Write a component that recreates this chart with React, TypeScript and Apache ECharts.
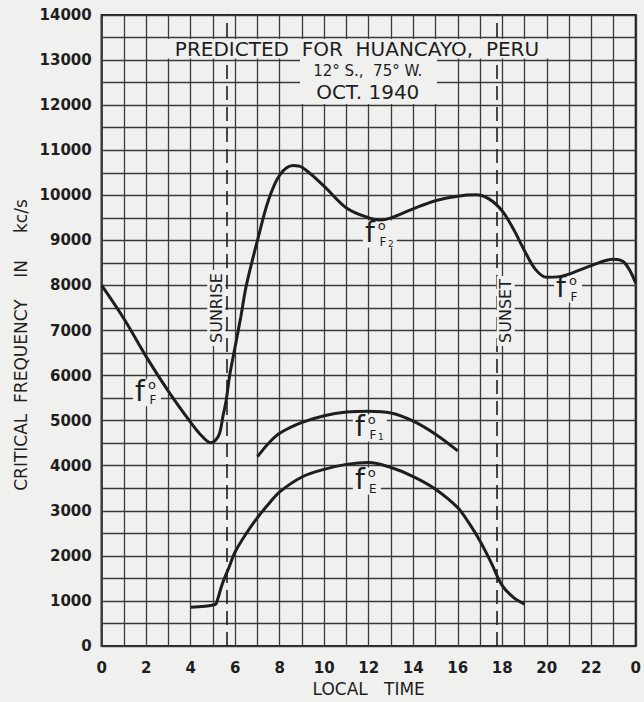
import React, { useEffect, useRef } from "react";
import * as echarts from "echarts";

// ---- data (local time in hours, critical frequency in kc/s) ----
const fFHours = [0, 1, 2, 3, 4, 4.5, 4.9, 5.25, 5.45, 5.6, 5.75, 6.0, 6.25, 6.5, 7, 7.5, 8, 8.6, 9, 10, 11, 12, 12.5, 13, 14, 15, 16, 16.8, 17.4, 18, 18.5, 19, 19.5, 20, 20.5, 21, 22, 23, 23.5, 24];
const fFValues = [8000, 7260, 6420, 5650, 4960, 4660, 4510, 4660, 5100, 5470, 6000, 6650, 7300, 8000, 9000, 9900, 10450, 10660, 10620, 10200, 9720, 9500, 9450, 9500, 9700, 9880, 9980, 10010, 9920, 9650, 9250, 8770, 8350, 8180, 8190, 8250, 8440, 8580, 8500, 8050];

const fF1Hours = [7, 7.5, 8, 9, 10, 11, 12, 13, 14, 15, 16];
const fF1Values = [4200, 4500, 4720, 4960, 5110, 5190, 5210, 5170, 4990, 4700, 4330];

const fEHours = [4.0, 5.1, 5.2, 5.4, 5.7, 6, 6.5, 7, 7.5, 8, 9, 10, 11, 12, 13, 14, 15, 16, 16.5, 17, 17.5, 18, 18.5, 19];
const fEValues = [860, 920, 1020, 1350, 1720, 2090, 2500, 2850, 3150, 3420, 3750, 3920, 4030, 4070, 3960, 3760, 3480, 3070, 2730, 2330, 1850, 1340, 1080, 930];

const sunriseHour = 5.6;
const sunsetHour = 17.75;

const xLabelHours = [0, 2, 4, 6, 8, 10, 12, 14, 16, 18, 20, 22, 24];
const xLabelTexts = ["0", "2", "4", "6", "8", "10", "12", "14", "16", "18", "20", "22", "0"];
const yLabelValues = [0, 1000, 2000, 3000, 4000, 5000, 6000, 7000, 8000, 9000, 10000, 11000, 12000, 13000, 14000];

const titleLines = ["PREDICTED  FOR  HUANCAYO,  PERU", "12° S.,  75° W.", "OCT. 1940"];
const yAxisTitle = "CRITICAL  FREQUENCY    IN     kc/s";
const xAxisTitle = "LOCAL   TIME";

// curve annotations: [hour, value, subscript letter, subscript digit]
const curveLabels: [number, number, string, string][] = [
  [1.72, 5630, "F", ""],
  [12.05, 9150, "F", "2"],
  [20.64, 7930, "F", ""],
  [11.6, 4850, "F", "1"],
  [11.6, 3670, "E", ""],
];

const BG = "#f0f0ef";
const INK = "#1e1e1e";
const GRIDC = "#3a3a3a";
const FONT = "DejaVu Sans";

const zip = (xs: number[], ys: number[]) => xs.map((x, i) => [x, ys[i]]);

export default function App() {
  const ref = useRef<HTMLDivElement>(null);
  useEffect(() => {
    document.body.style.margin = "0";
    document.body.style.background = BG;
    const chart = echarts.init(ref.current!, null, { renderer: "svg" });
    const lineCommon = {
      type: "line" as const,
      showSymbol: false,
      smooth: 0.35,
      lineStyle: { color: INK, width: 3 },
      z: 5,
    };
    chart.setOption({
      animation: false,
      backgroundColor: BG,
      grid: {
        left: 101.7,
        right: 6.5,
        top: 15,
        bottom: 55,
        show: true,
        borderColor: INK,
        borderWidth: 2.2,
        backgroundColor: "transparent",
      },
      xAxis: {
        type: "value",
        min: 0,
        max: 24,
        interval: 1,
        name: xAxisTitle,
        nameLocation: "middle",
        nameGap: 34,
        nameTextStyle: { fontFamily: FONT, fontSize: 17, color: INK },
        axisLine: { show: false },
        axisTick: { show: false },
        axisLabel: {
          fontFamily: FONT,
          fontSize: 15,
          fontWeight: "bold",
          color: INK,
          margin: 14,
          formatter: (v: number) => {
            const i = xLabelHours.indexOf(v);
            return i >= 0 ? xLabelTexts[i] : "";
          },
        },
        splitLine: { show: true, lineStyle: { color: GRIDC, width: 1.3 } },
      },
      yAxis: {
        type: "value",
        min: 0,
        max: 14000,
        interval: 500,
        axisLine: { show: false },
        axisTick: { show: false },
        axisLabel: {
          fontFamily: FONT,
          fontSize: 15,
          fontWeight: "bold",
          color: INK,
          margin: 10,
          formatter: (v: number) => (yLabelValues.indexOf(v) >= 0 ? String(v) : ""),
        },
        splitLine: { show: true, lineStyle: { color: GRIDC, width: 1.3 } },
      },
      series: [
        {
          ...lineCommon,
          name: "foF",
          data: zip(fFHours, fFValues),
          markLine: {
            silent: true,
            symbol: "none",
            label: { show: false },
            lineStyle: { color: INK, width: 1.6, type: [14, 7] },
            data: [{ xAxis: sunriseHour }, { xAxis: sunsetHour }],
          },
        },
        { ...lineCommon, name: "foF1", data: zip(fF1Hours, fF1Values) },
        { ...lineCommon, name: "foE", data: zip(fEHours, fEValues) },
      ],
    });

    const px = (h: number, v: number) => chart.convertToPixel({ gridIndex: 0 }, [h, v]) as number[];
    const txt = (x: number, y: number, text: string, size: number, extra: any = {}) => ({
      type: "text",
      x,
      y,
      z: 101,
      style: {
        text,
        fontFamily: FONT,
        fontSize: size,
        fill: INK,
        align: "center",
        verticalAlign: "middle",
        textAlign: "center",
        textVerticalAlign: "middle",
        ...extra,
      },
    });

    const graphics: any[] = [];
    // y axis title
    graphics.push({ ...txt(0, 0, yAxisTitle, 17), x: 21, y: 345, rotation: Math.PI / 2 });

    // title boxes
    const [tx] = px(12, 0);
    const y135 = px(0, 13500)[1];
    const y130 = px(0, 13000)[1];
    graphics.push({ type: "rect", z: 100, shape: { x: 163, y: y135 + 1.5, width: 390, height: y130 - y135 - 3 }, style: { fill: BG } });
    graphics.push({ type: "rect", z: 100, shape: { x: 300, y: y130 - 2, width: 137, height: 46 }, style: { fill: BG } });
    graphics.push(txt(357, (y135 + y130) / 2 + 0.5, titleLines[0], 20));
    graphics.push(txt(tx - 1, 70.5, titleLines[1], 15));
    graphics.push(txt(tx - 1, 92, titleLines[2], 20));

    // sunrise / sunset
    const [srx] = px(sunriseHour, 0);
    const [ssx] = px(sunsetHour, 0);
    const vtext = (x: number, y: number, text: string) => ({
      type: "text", x, y, rotation: Math.PI / 2, z: 101,
      style: { text, fontFamily: FONT, fontSize: 16, fill: INK, align: "center", verticalAlign: "middle", textAlign: "center", textVerticalAlign: "middle", backgroundColor: BG, padding: [1, 3] },
    });
    graphics.push(vtext(srx - 10, 308, "SUNRISE"));
    graphics.push(vtext(ssx + 9, 311, "SUNSET"));

    // curve labels  f°X (background boxes sit under the curves but above the grid)
    curveLabels.forEach(([h, v, sub, dig]) => {
      const [cx, cy] = px(h, v);
      const w = dig ? 34 : 28;
      graphics.push({ type: "rect", z: 2, shape: { x: cx - 7, y: cy - 13, width: w, height: 27 }, style: { fill: BG } });
      graphics.push(txt(cx, cy - 1, "f", 28));
      graphics.push(txt(cx + 12, cy - 8, "o", 13));
      graphics.push(txt(cx + 13, cy + 8, sub, 12));
      if (dig) graphics.push(txt(cx + 21, cy + 10, dig, 9));
    });

    chart.setOption({ graphic: graphics });
    return () => chart.dispose();
  }, []);
  return <div ref={ref} style={{ width: 644, height: 702, background: BG }} />;
}
